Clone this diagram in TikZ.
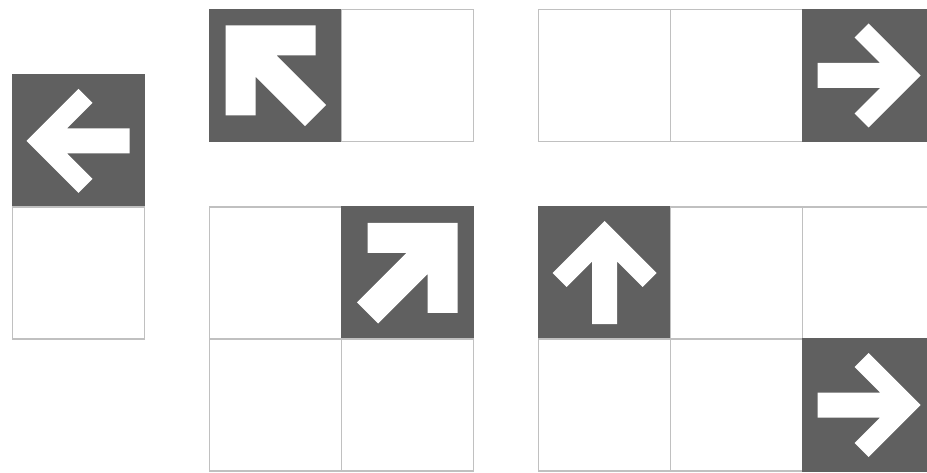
\documentclass[tikz,border=0pt]{standalone}
\definecolor{darkcell}{RGB}{96,96,96}
\definecolor{gridline}{RGB}{192,192,192}
\tikzset{
  cell/.style={draw=gridline, line width=1.2pt, fill=white, minimum width=132pt, minimum height=132pt, inner sep=0pt, outer sep=0pt},
  darkbox/.style={cell, draw=darkcell, fill=darkcell},
  arrowshape/.style={fill=white, draw=none}
}
\newcommand{\straightarrow}{(52,0) -- (0,-52) -- (-14,-38) -- (11.5,-12.5) -- (-51,-12.5) -- (-51,12.5) -- (11.5,12.5) -- (-14,38) -- (0,52) -- cycle}
\newcommand{\uparrowshape}{(0,-52) -- (-52,0) -- (-38,14) -- (-12.5,-11.5) -- (-12.5,51) -- (12.5,51) -- (12.5,-11.5) -- (38,14) -- (52,0) -- cycle}
\newcommand{\diagarrow}{(-50,-50) -- (40,-50) -- (40,-20) -- (1.2,-20) -- (50.6,29.4) -- (29.4,50.6) -- (-20,1.2) -- (-20,40) -- (-50,40) -- cycle}
\begin{document}
\begin{tikzpicture}[x=1pt,y=-1pt]
\useasboundingbox (0,0) rectangle (927,473);
\clip (0,0) rectangle (927,473);
\fill[white] (0,0) rectangle (927,473);
% left column
\node[darkbox] (l1) at (78.5,141) {};
\node[cell] (l2) at (78.5,273) {};
% top middle
\node[darkbox] (tm1) at (275.5,75.5) {};
\node[cell] (tm2) at (407.5,75.5) {};
% top right
\node[cell] (tr1) at (604.5,75.5) {};
\node[cell] (tr2) at (736.5,75.5) {};
\node[darkbox] (tr3) at (868.5,75.5) {};
% bottom middle
\node[cell] (bm11) at (275.5,273) {};
\node[darkbox] (bm12) at (407.5,273) {};
\node[cell] (bm21) at (275.5,405) {};
\node[cell] (bm22) at (407.5,405) {};
% bottom right
\node[darkbox] (br11) at (604.5,273) {};
\node[cell] (br12) at (736.5,273) {};
\node[cell] (br13) at (868.5,273) {};
\node[cell] (br21) at (604.5,405) {};
\node[cell] (br22) at (736.5,405) {};
\node[darkbox] (br23) at (868.5,405) {};
% arrows
\begin{scope}[shift={(l1.center)}, xscale=-1]
  \fill[arrowshape] \straightarrow;
\end{scope}
\begin{scope}[shift={(tr3.center)}]
  \fill[arrowshape] \straightarrow;
\end{scope}
\begin{scope}[shift={(br23.center)}]
  \fill[arrowshape] \straightarrow;
\end{scope}
\begin{scope}[shift={(br11.center)}]
  \fill[arrowshape] \uparrowshape;
\end{scope}
\begin{scope}[shift={(tm1.center)}]
  \fill[arrowshape] \diagarrow;
\end{scope}
\begin{scope}[shift={(bm12.center)}, xscale=-1]
  \fill[arrowshape] \diagarrow;
\end{scope}
\end{tikzpicture}
\end{document}
